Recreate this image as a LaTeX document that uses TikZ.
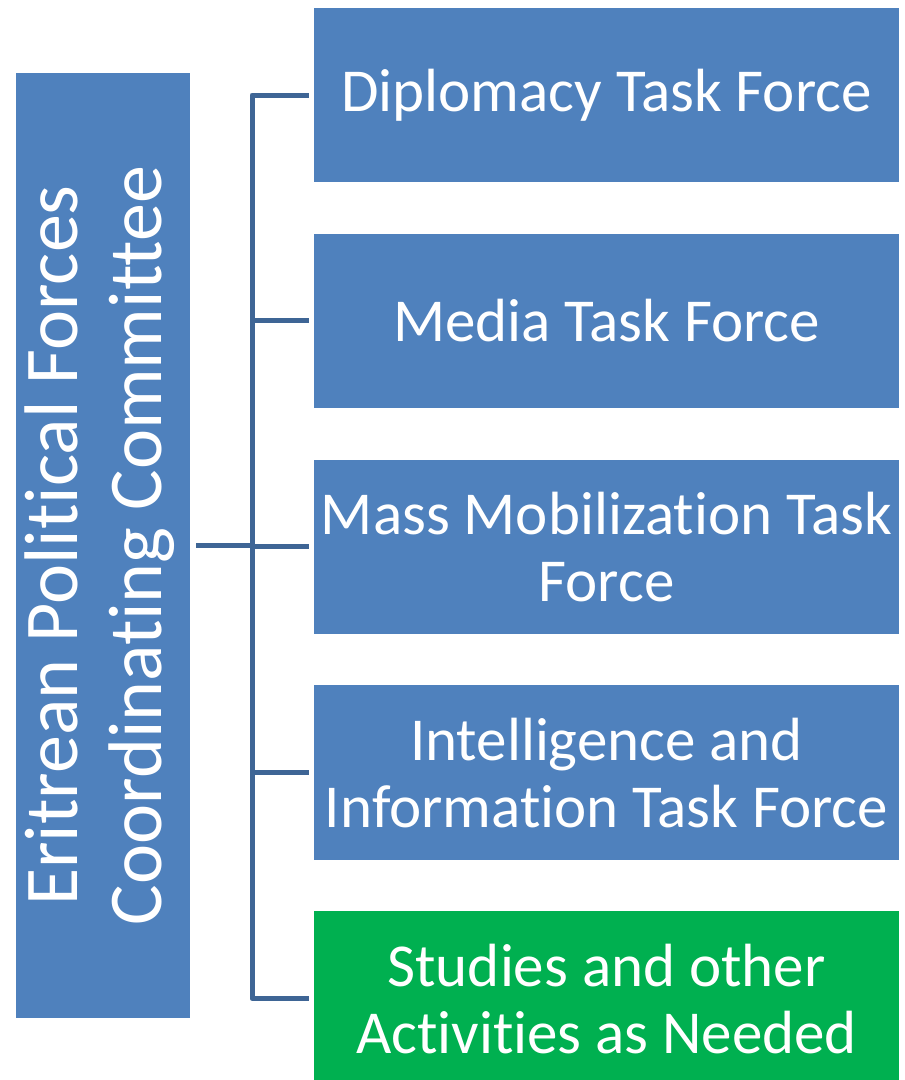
\documentclass[tikz,border=0pt]{standalone}
\usepackage{fontspec}
\setmainfont{Carlito}[Ligatures=NoCommon]
\usepackage{xcolor}
\usepackage{tikz}
\usetikzlibrary{positioning,calc}

\definecolor{taskblue}{HTML}{4F81BD}
\definecolor{taskgreen}{HTML}{00B050}
\definecolor{linkblue}{HTML}{3E6595}

\begin{document}
\begin{tikzpicture}[
    x=1pt, y=-1pt,
    node distance=51pt,
    task/.style={rectangle, fill=taskblue, text=white, minimum width=585pt, minimum height=174.5pt, inner sep=0pt, align=center, font=\fontsize{61}{67}\selectfont},
    head/.style={rectangle, fill=taskblue, text=white, minimum width=174pt, minimum height=945pt, inner sep=0pt},
    conn/.style={draw=linkblue, line width=5pt, line join=round}
]
    \useasboundingbox (0,0) rectangle (905,1080);

    % Committee
    \node[head] (committee) at (103,545.5) {\rotatebox{90}{\fontsize{76}{84}\selectfont
        \begin{tabular}{@{}c@{}}Eritrean Political Forces\\ Coordinating Committee\end{tabular}}};

    % Task forces
    \node[task] (diplomacy) at (606.5,95) {Diplomacy Task Force};
    \node[task, below=of diplomacy] (media) {Media Task Force};
    \node[task, below=of media] (mobilization) {Mass Mobilization Task\\ Force};
    \node[task, below=of mobilization] (intelligence) {Intelligence and\\ Information Task Force};
    \node[task, fill=taskgreen, below=of intelligence] (studies) {Studies and other\\ Activities as Needed};

    % Connectors
    \coordinate (bus) at ($(committee.east)!0.5!(diplomacy.west)$);
    \draw[conn] ([xshift=6pt]committee.east) -- (bus |- committee.east);
    \draw[conn] ([xshift=-5pt]diplomacy.west) -| (bus |- studies.west) -- ([xshift=-5pt]studies.west);
    \foreach \n in {media, mobilization, intelligence}
        \draw[conn] (bus |- \n.west) -- ([xshift=-5pt]\n.west);
\end{tikzpicture}
\end{document}
